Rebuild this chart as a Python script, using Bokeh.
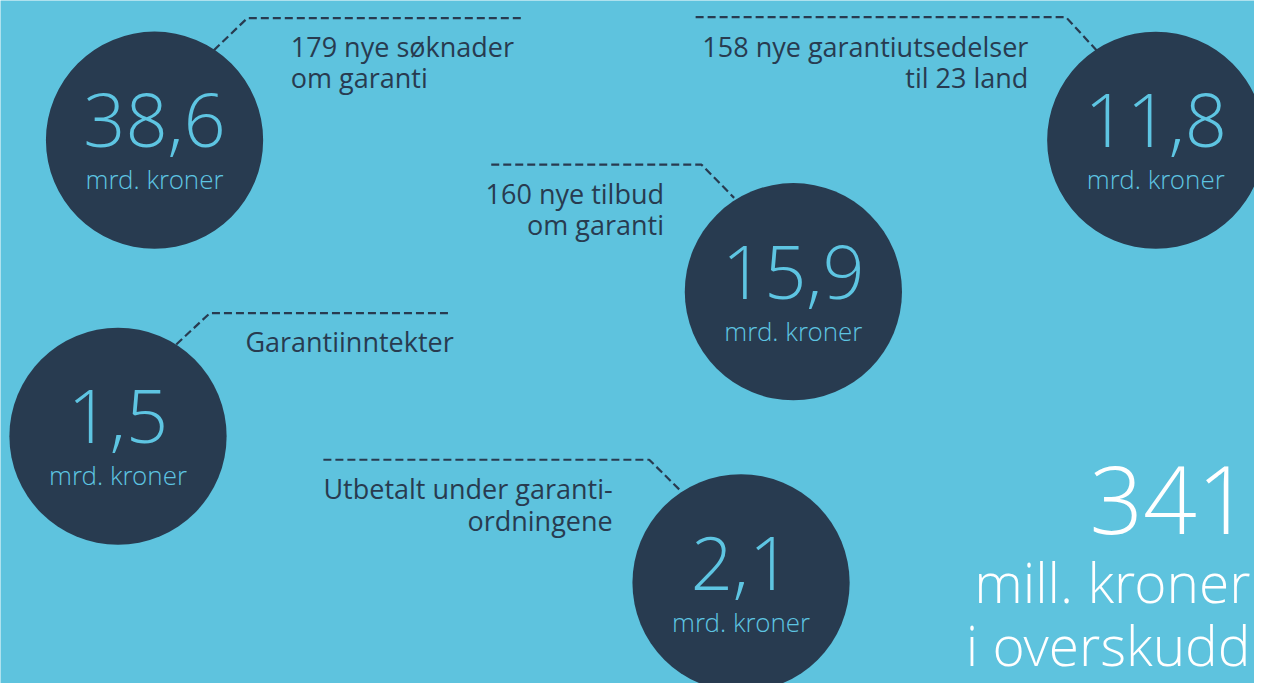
from bokeh.plotting import figure
from bokeh.models import Range1d
from bokeh.core.properties import value
from bokeh.embed import file_html
from bokeh.resources import INLINE

# ---- data ----
values = ["38,6", "11,8", "15,9", "1,5", "2,1"]
units = ["mrd. kroner", "mrd. kroner", "mrd. kroner", "mrd. kroner", "mrd. kroner"]
desc_line1 = ["179 nye søknader", "158 nye garantiutsedelser", "160 nye tilbud", "Garantiinntekter", "Utbetalt under garanti-"]
desc_line2 = ["om garanti", "til 23 land", "om garanti", "", "ordningene"]
total_value = "341"
total_unit = ["mill. kroner", "i overskudd"]

# ---- layout (reference pixel coordinates) ----
cx = [156, 1170, 803, 119, 750]
cy = [143, 143, 298, 446, 596]
R = 110
desc_x = [294, 1041, 672, 248, 620]
desc_y = [57, 57, 208, 359, 510]
desc_align = ["left", "right", "right", "left", "right"]
leaders = [
    ([216, 250, 527], [51, 18, 18]),
    ([704, 1079, 1111], [17, 17, 52]),
    ([497, 710, 743], [168, 168, 202]),
    ([178, 212, 457], [352, 320, 320]),
    ([327, 657, 690], [470, 470, 503]),
]

BG = "#5ec3de"
NAVY = "#283b50"
LIGHT = "#5ec5e2"
K = 0.38  # baseline correction factor (fraction of font size)

def by(baseline, size):
    return baseline - K * size

W, H = 1254, 683
p = figure(width=W, height=H, output_backend="svg", toolbar_location=None,
           x_range=Range1d(0, 1270), y_range=Range1d(699, 0),
           min_border=0, background_fill_color=BG, border_fill_color=BG)
p.axis.visible = False
p.grid.visible = False
p.outline_line_color = None

for xs, ys in leaders:
    p.line(xs, ys, line_color=NAVY, line_width=2.2, line_dash="8 4")

p.circle(cx, cy, radius=R, fill_color=NAVY, line_color=None)

NUM = 74
UNIT = 26
p.text(cx, [by(y + 8, NUM) for y in cy], text=values, text_align="center",
       text_baseline="alphabetic", text_color=LIGHT, text_font=value("Open Sans Light"),
       text_font_size=f"{NUM}px")
p.text(cx, [by(y + 50, UNIT) for y in cy], text=units, text_align="center",
       text_baseline="alphabetic", text_color=LIGHT, text_font=value("Open Sans Light"),
       text_font_size=f"{UNIT}px")

LAB = 27
for i in range(5):
    p.text([desc_x[i]], [by(desc_y[i], LAB)], text=[desc_line1[i]], text_align=desc_align[i],
           text_baseline="alphabetic", text_color=NAVY, text_font=value("Open Sans"),
           text_font_size=f"{LAB}px")
    if desc_line2[i]:
        p.text([desc_x[i]], [by(desc_y[i] + 32, LAB)], text=[desc_line2[i]], text_align=desc_align[i],
               text_baseline="alphabetic", text_color=NAVY, text_font=value("Open Sans"),
               text_font_size=f"{LAB}px")

TOT = 94
TU = 55
p.text([1266], [by(547, TOT)], text=[total_value], text_align="right", text_baseline="alphabetic",
       text_color="white", text_font=value("Open Sans Light"), text_font_size=f"{TOT}px")
p.text([1266, 1266], [by(615, TU), by(680, TU)], text=total_unit, text_align="right",
       text_baseline="alphabetic", text_color="white", text_font=value("Open Sans Light"),
       text_font_size=f"{TU}px")

open("out.html", "w").write(file_html(p, INLINE))
